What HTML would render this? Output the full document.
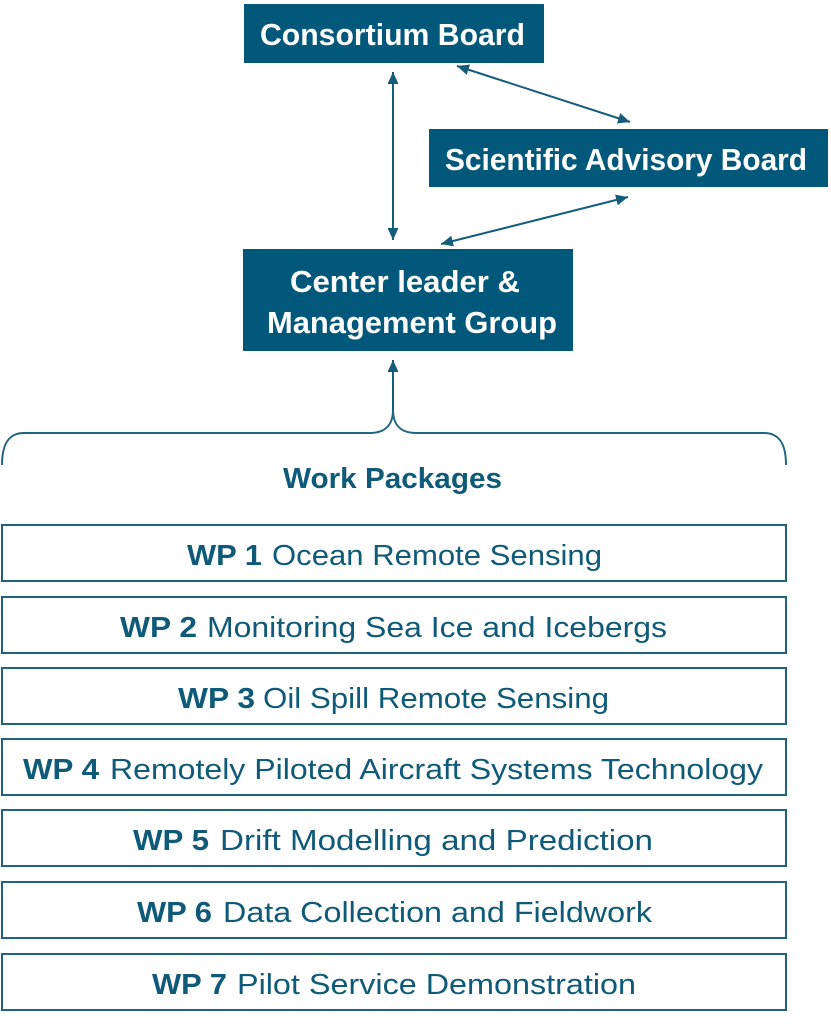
<!DOCTYPE html>
<html>
<head>
<meta charset="utf-8">
<style>
  html, body { margin: 0; padding: 0; background: #ffffff; }
  body { width: 831px; height: 1024px; overflow: hidden; }
  svg { display: block; }
  .hdr { font-family: "Liberation Sans", sans-serif; font-weight: bold; font-size: 31px; fill: #ffffff; }
  .wpb { font-family: "Liberation Sans", sans-serif; font-weight: bold; font-size: 29px; fill: #0f5a78; }
  .wpr { font-family: "Liberation Sans", sans-serif; font-weight: normal; font-size: 29px; fill: #0f5a78; }
</style>
</head>
<body>
<svg width="831" height="1024" viewBox="0 0 831 1024" xmlns="http://www.w3.org/2000/svg">
  <defs>
    <marker id="ah" markerUnits="userSpaceOnUse" markerWidth="13" markerHeight="12" refX="12" refY="5.5" orient="auto-start-reverse">
      <path d="M0,0 L12,5.5 L0,11 z" fill="#135d7b"/>
    </marker>
  </defs>

  <!-- Header boxes -->
  <rect x="244" y="4" width="300" height="59" fill="#02587a"/>
  <text class="hdr" x="260" y="45" textLength="265" lengthAdjust="spacingAndGlyphs">Consortium Board</text>

  <rect x="429" y="129" width="399" height="58" fill="#02587a"/>
  <text class="hdr" x="445" y="170" textLength="362" lengthAdjust="spacingAndGlyphs">Scientific Advisory Board</text>

  <rect x="243" y="249" width="330" height="102" fill="#02587a"/>
  <text class="hdr" x="290" y="292" textLength="230" lengthAdjust="spacingAndGlyphs">Center leader &amp;</text>
  <text class="hdr" x="267" y="333" textLength="290" lengthAdjust="spacingAndGlyphs">Management Group</text>

  <!-- Connectors -->
  <line x1="393" y1="72" x2="393" y2="240" stroke="#135d7b" stroke-width="2" marker-start="url(#ah)" marker-end="url(#ah)"/>
  <line x1="457" y1="66" x2="630" y2="122" stroke="#135d7b" stroke-width="2" marker-start="url(#ah)" marker-end="url(#ah)"/>
  <line x1="628" y1="197" x2="441" y2="244" stroke="#135d7b" stroke-width="2" marker-start="url(#ah)" marker-end="url(#ah)"/>

  <!-- Brace arrow -->
  <line x1="393" y1="360" x2="393" y2="412" stroke="#135d7b" stroke-width="2" marker-start="url(#ah)"/>
  <path d="M2,465 C2,445 8,433 24,433 L370,433 C386,433 393,424 393,410 C393,424 400,433 416,433 L764,433 C780,433 786,445 786,465"
        fill="none" stroke="#1f6682" stroke-width="2"/>

  <text class="wpb" x="283" y="488" textLength="219" lengthAdjust="spacingAndGlyphs">Work Packages</text>

  <!-- Work package boxes -->
  <g fill="none" stroke="#1e6280" stroke-width="2">
    <rect x="2" y="525" width="784" height="56"/>
    <rect x="2" y="597" width="784" height="56"/>
    <rect x="2" y="668" width="784" height="56"/>
    <rect x="2" y="739" width="784" height="56"/>
    <rect x="2" y="810" width="784" height="56"/>
    <rect x="2" y="882" width="784" height="56"/>
    <rect x="2" y="954" width="784" height="56"/>
  </g>

  <text class="wpb" x="187" y="565" textLength="75" lengthAdjust="spacingAndGlyphs">WP 1</text>
  <text class="wpr" x="272" y="565" textLength="330" lengthAdjust="spacingAndGlyphs">Ocean Remote Sensing</text>

  <text class="wpb" x="120" y="637" textLength="77" lengthAdjust="spacingAndGlyphs">WP 2</text>
  <text class="wpr" x="207" y="637" textLength="460" lengthAdjust="spacingAndGlyphs">Monitoring Sea Ice and Icebergs</text>

  <text class="wpb" x="178" y="708" textLength="77" lengthAdjust="spacingAndGlyphs">WP 3</text>
  <text class="wpr" x="263" y="708" textLength="346" lengthAdjust="spacingAndGlyphs">Oil Spill Remote Sensing</text>

  <text class="wpb" x="23" y="779" textLength="76" lengthAdjust="spacingAndGlyphs">WP 4</text>
  <text class="wpr" x="110" y="779" textLength="653" lengthAdjust="spacingAndGlyphs">Remotely Piloted Aircraft Systems Technology</text>

  <text class="wpb" x="133" y="850" textLength="76" lengthAdjust="spacingAndGlyphs">WP 5</text>
  <text class="wpr" x="220" y="850" textLength="433" lengthAdjust="spacingAndGlyphs">Drift Modelling and Prediction</text>

  <text class="wpb" x="137" y="922" textLength="75" lengthAdjust="spacingAndGlyphs">WP 6</text>
  <text class="wpr" x="223" y="922" textLength="429" lengthAdjust="spacingAndGlyphs">Data Collection and Fieldwork</text>

  <text class="wpb" x="152" y="994" textLength="75" lengthAdjust="spacingAndGlyphs">WP 7</text>
  <text class="wpr" x="237" y="994" textLength="399" lengthAdjust="spacingAndGlyphs">Pilot Service Demonstration</text>
</svg>
</body>
</html>
